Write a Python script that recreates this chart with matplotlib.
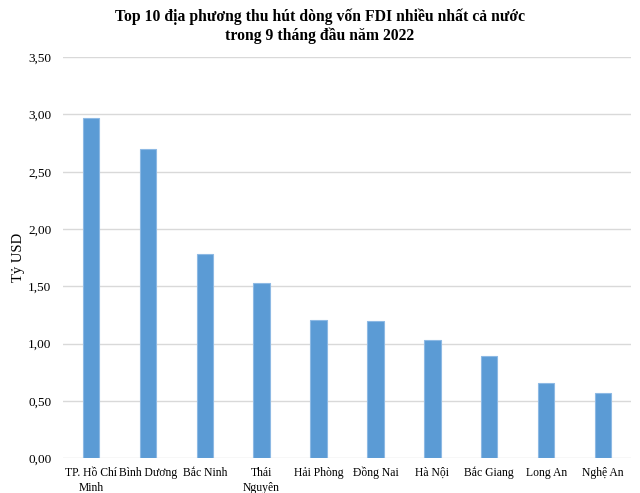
import matplotlib.pyplot as plt

plt.rcParams["font.family"] = ["Liberation Serif", "DejaVu Serif"]

CATEGORIES = [
    "TP. Hồ Chí\nMinh",
    "Bình Dương",
    "Bắc Ninh",
    "Thái\nNguyên",
    "Hải Phòng",
    "Đồng Nai",
    "Hà Nội",
    "Bắc Giang",
    "Long An",
    "Nghệ An"
]

VALUES = [2.97, 2.70, 1.78, 1.53, 1.21, 1.20, 1.03, 0.89, 0.66, 0.57]

Y_TICKS = [0, 0.5, 1.0, 1.5, 2.0, 2.5, 3.0, 3.5]
Y_TICK_LABELS = ["0,00", "0,50", "1,00", "1,50", "2,00", "2,50", "3,00", "3,50"]

fig = plt.figure(figsize=(6.4, 4.93), dpi=100)
ax = fig.add_axes([0.0977, 0.0704, 0.889, 0.8136])

x = range(len(CATEGORIES))
ax.bar(
    x,
    VALUES,
    width=0.29,
    color="#5B9BD5",
    edgecolor="#8DB9E4",
    linewidth=0.8,
    zorder=3
)

ax.set_xlim(-0.5, len(CATEGORIES) - 0.5)
ax.set_ylim(0, 3.5)
ax.set_yticks(Y_TICKS)
ax.set_yticklabels(Y_TICK_LABELS, fontsize=9.5)
ax.set_xticks(list(x))
ax.set_xticklabels(CATEGORIES, fontsize=8.4, linespacing=1.4)

ax.yaxis.grid(True, color="#D9D9D9", linewidth=1, zorder=0)
for s in ax.spines.values():
    s.set_visible(False)
ax.tick_params(axis="both", length=0)
ax.tick_params(axis="y", pad=8)
ax.tick_params(axis="x", pad=6)

ax.set_ylabel("Tỷ USD", fontsize=10.5, labelpad=2)

fig.suptitle(
    "Top 10 địa phương thu hút dòng vốn FDI nhiều nhất cả nước\ntrong 9 tháng đầu năm 2022",
    fontsize=11.3,
    fontweight="bold",
    y=0.982,
    linespacing=1.2
)

plt.savefig("out.png", dpi=100)
plt.close()
